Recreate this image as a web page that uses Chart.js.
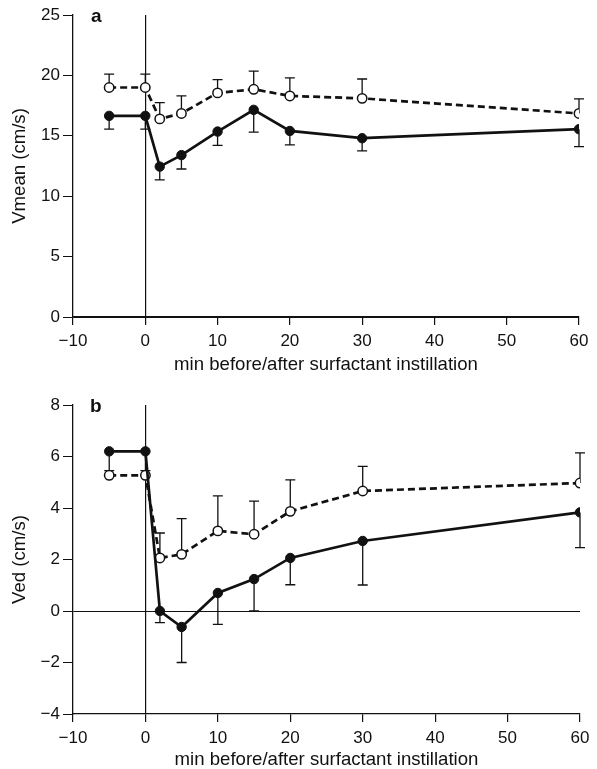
<!DOCTYPE html>
<html>
<head>
<meta charset="utf-8">
<script src="https://cdn.jsdelivr.net/npm/chart.js@4/dist/chart.umd.min.js"></script>
<style>
body { margin: 0; background: #fff; width: 597px; height: 769px; position: relative; overflow: hidden; }
.panel { position: absolute; left: 0; width: 597px; }
#wrapA { top: 0; height: 385px; }
#wrapB { top: 385px; height: 384px; }
.tag { position: absolute; font: bold 19px "Liberation Sans", Arial, sans-serif; color: #111; }
</style>
</head>
<body>
<div class="panel" id="wrapA"><canvas id="chartA" width="597" height="385"></canvas></div>
<div class="panel" id="wrapB"><canvas id="chartB" width="597" height="384"></canvas></div>
<span class="tag" style="left:91px;top:5px">a</span>
<span class="tag" style="left:90px;top:395px">b</span>
<script>
// minutes relative to surfactant instillation
const minutes = [-5, 0, 2, 5, 10, 15, 20, 30, 60];

// panel a: Vmean (cm/s)
const vmeanFilled = [16.65, 16.65, 12.45, 13.4, 15.35, 17.15, 15.4, 14.8, 15.55];
const vmeanFilledLow = [15.55, 15.55, 11.35, 12.25, 14.2, 15.3, 14.25, 13.75, 14.1];
const vmeanOpen = [19.0, 19.0, 16.4, 16.85, 18.55, 18.85, 18.3, 18.1, 16.85];
const vmeanOpenHigh = [20.1, 20.1, 17.75, 18.3, 19.65, 20.35, 19.8, 19.7, 18.05];

// panel b: Ved (cm/s)
const vedFilled = [6.2, 6.2, 0.0, -0.62, 0.7, 1.24, 2.06, 2.72, 3.83];
const vedFilledLow = [5.45, 5.45, -0.45, -2.0, -0.52, 0.0, 1.02, 1.01, 2.46];
const vedOpen = [5.27, 5.27, 2.06, 2.2, 3.11, 2.98, 3.87, 4.66, 4.97];
const vedOpenHigh = [null, null, 3.03, 3.59, 4.47, 4.27, 5.09, 5.62, 6.14];

const xTicks = { min: -10, max: 60, step: 10 };
const yTicksA = { min: 0, max: 25, step: 5 };
const yTicksB = { min: -4, max: 8, step: 2 };

const INK = '#111';
const FONT = '"Liberation Sans", Arial, sans-serif';

function toPoints(values) {
    return values.map((v, i) => ({ x: minutes[i], y: v }));
}

function minusSign(v) {
    return String(v).replace('-', '\u2212');
}

const errorBars = {
    id: 'errorBars',
    beforeDatasetsDraw(chart) {
        const { ctx } = chart;
        const x = chart.scales.x;
        const y = chart.scales.y;
        ctx.save();
        ctx.strokeStyle = INK;
        ctx.lineWidth = 1.3;
        chart.data.datasets.forEach((ds) => {
            if (!ds.errEnds) return;
            ds.errEnds.forEach((end, i) => {
                if (end == null) return;
                const px = x.getPixelForValue(ds.data[i].x);
                const py0 = y.getPixelForValue(ds.data[i].y);
                const py1 = y.getPixelForValue(end);
                ctx.beginPath();
                ctx.moveTo(px, py0);
                ctx.lineTo(px, py1);
                ctx.moveTo(px - 5, py1);
                ctx.lineTo(px + 5, py1);
                ctx.stroke();
            });
        });
        ctx.restore();
    },
};

function zeroOnly(ctx) {
    return ctx.tick && ctx.tick.value === 0 ? INK : 'transparent';
}

function makeChart(canvasId, opts) {
    const ctx = document.getElementById(canvasId).getContext('2d');
    return new Chart(ctx, {
        type: 'line',
        data: {
            datasets: [
                {
                    data: toPoints(opts.filled),
                    errEnds: opts.filledErr,
                    borderColor: INK,
                    borderWidth: 2.7,
                    pointRadius: 4.7,
                    pointBackgroundColor: INK,
                    pointBorderColor: INK,
                    pointBorderWidth: 1,
                    tension: 0,
                },
                {
                    data: toPoints(opts.open),
                    errEnds: opts.openErr,
                    borderColor: INK,
                    borderWidth: 2.7,
                    borderDash: [7, 4],
                    pointRadius: 4.7,
                    pointBackgroundColor: '#fff',
                    pointBorderColor: INK,
                    pointBorderWidth: 1.5,
                    tension: 0,
                },
            ],
        },
        options: {
            responsive: false,
            animation: false,
            layout: { padding: opts.padding },
            plugins: {
                legend: { display: false },
                tooltip: { enabled: false },
            },
            scales: {
                x: {
                    type: 'linear',
                    min: xTicks.min,
                    max: xTicks.max,
                    afterFit: (scale) => { scale.height = opts.xHeight; },
                    ticks: {
                        stepSize: xTicks.step,
                        color: INK,
                        padding: 6,
                        maxRotation: 0,
                        font: { family: FONT, size: 17 },
                        callback: minusSign,
                    },
                    grid: {
                        drawOnChartArea: true,
                        color: zeroOnly,
                        tickColor: INK,
                        tickLength: 8,
                        lineWidth: 1.2,
                    },
                    border: { display: true, color: INK, width: 1.3 },
                    title: {
                        display: true,
                        text: 'min before/after surfactant instillation',
                        color: INK,
                        font: { family: FONT, size: 18.6, lineHeight: 1 },
                        padding: { top: 0, bottom: opts.titlePad },
                    },
                },
                y: {
                    min: opts.yTicks.min,
                    max: opts.yTicks.max,
                    afterFit: (scale) => { scale.width = 73; },
                    ticks: {
                        stepSize: opts.yTicks.step,
                        color: INK,
                        padding: 3,
                        font: { family: FONT, size: 17 },
                        callback: minusSign,
                    },
                    grid: {
                        drawOnChartArea: true,
                        color: zeroOnly,
                        tickColor: INK,
                        tickLength: 10,
                        lineWidth: 1,
                    },
                    border: { display: true, color: INK, width: 1.3 },
                    title: {
                        display: true,
                        text: opts.yTitle,
                        color: INK,
                        font: { family: FONT, size: 18.6, lineHeight: 1 },
                        padding: { top: 11, bottom: 0 },
                    },
                },
            },
        },
        plugins: [errorBars],
    });
}

makeChart('chartA', {
    filled: vmeanFilled,
    filledErr: vmeanFilledLow,
    open: vmeanOpen,
    openErr: vmeanOpenHigh,
    yTicks: yTicksA,
    yTitle: 'Vmean (cm/s)',
    padding: { top: 15, right: 18, left: 0, bottom: 0 },
    xHeight: 68,
    titlePad: 11,
});

makeChart('chartB', {
    filled: vedFilled,
    filledErr: vedFilledLow,
    open: vedOpen,
    openErr: vedOpenHigh,
    yTicks: yTicksB,
    yTitle: 'Ved (cm/s)',
    padding: { top: 20, right: 17, left: 0, bottom: 0 },
    xHeight: 55,
    titlePad: 0,
});
</script>
</body>
</html>
